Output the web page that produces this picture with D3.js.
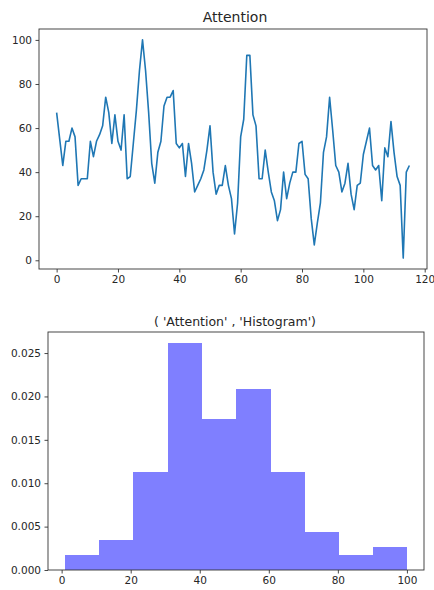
<!DOCTYPE html>
<html><head><meta charset="utf-8">
<script src="https://cdn.jsdelivr.net/npm/d3@7"></script>
<style>
body{margin:0;background:#fff;}
svg{display:block;font-family:"DejaVu Sans",sans-serif;}
</style></head>
<body>
<svg id="c" width="434" height="590"></svg>
<script>
// Line series: Attention values, index 0..115
const attention = [
 67,55,43,54,54,60,56,34,37,37,
 37,54,47,54,57,61,74,67,53,66,
 54,50,66,37,38,53,68,86,100,86,
 67,44,35,49,54,70,74,74,77,53,
 51,53,38,53,44,31,34,37,41,50,
 61,40,30,34,34,43,34,28,12,26,
 56,64,93,93,66,61,37,37,50,40,
 31,27,18,23,40,28,35,40,40,53,
 54,39,37,19,7,17,26,49,56,74,
 59,43,40,31,35,44,30,23,34,35,
 48,54,60,43,41,43,27,51,47,63,
 49,38,34,1,40,43
];
const lineXTicks = [0,20,40,60,80,100,120];
const lineYTicks = [0,20,40,60,80,100];

// Histogram (density)
const binEdges = [1,10.9,20.8,30.7,40.6,50.5,60.4,70.3,80.2,90.1,100];
const densities = [0.00174,0.00348,0.01132,0.02612,0.01742,0.0209,0.01132,0.00435,0.00174,0.00261];
const histXTicks = [0,20,40,60,80,100];
const histYTicks = [0,0.005,0.010,0.015,0.020,0.025];

const svg = d3.select("#c");
const txt = "#262626";

function frame(g, l, t, r, b){
  g.append("rect").attr("x",l).attr("y",t).attr("width",r-l).attr("height",b-t)
   .attr("fill","none").attr("stroke","#333").attr("stroke-width",0.9);
}
function styleAxis(sel, fs){
  sel.select(".domain").remove();
  sel.selectAll(".tick line").attr("stroke","#333").attr("stroke-width",0.9);
  sel.selectAll(".tick text").attr("fill",txt).style("font-size",fs+"px").style("font-family","DejaVu Sans, sans-serif");
}

// ---------- Top: line chart ----------
{
  const L=39,R=427,T=29,B=269;
  const n = attention.length;
  const xr = n-1, ymin = d3.min(attention), ymax = d3.max(attention);
  const x = d3.scaleLinear().domain([-0.05*xr, xr*1.05]).range([L,R]);
  const yr = ymax-ymin;
  const y = d3.scaleLinear().domain([ymin-0.05*yr, ymax+0.05*yr]).range([B,T]);
  const g = svg.append("g");
  g.append("path").datum(attention)
   .attr("d", d3.line().x((d,i)=>x(i)).y(d=>y(d)))
   .attr("fill","none").attr("stroke","#1f77b4").attr("stroke-width",1.6)
   .attr("stroke-linejoin","round");
  frame(g,L,T,R,B);
  const xa = g.append("g").attr("transform",`translate(0,${B})`)
   .call(d3.axisBottom(x).tickValues(lineXTicks).tickSize(3.5).tickPadding(3.5).tickFormat(d3.format("d")));
  styleAxis(xa,10.5);
  const ya = g.append("g").attr("transform",`translate(${L},0)`)
   .call(d3.axisLeft(y).tickValues(lineYTicks).tickSize(3.5).tickPadding(3.5).tickFormat(d3.format("d")));
  styleAxis(ya,10.5);
  g.append("text").attr("x",235).attr("y",T-7).attr("text-anchor","middle")
   .attr("fill",txt).style("font-size","14px").text("Attention");
}

// ---------- Bottom: histogram ----------
{
  const L=48,R=424,T=332,B=570;
  const lo = binEdges[0], hi = binEdges[binEdges.length-1], r = hi-lo;
  const x = d3.scaleLinear().domain([lo-0.05*r, hi+0.05*r]).range([L,R]);
  const y = d3.scaleLinear().domain([0, d3.max(densities)*1.05]).range([B,T]);
  const g = svg.append("g");
  const bins = densities.map((d,i)=>({x0:binEdges[i], x1:binEdges[i+1], v:d}));
  g.selectAll("rect.bar").data(bins).join("rect").attr("class","bar")
   .attr("x",d=>x(d.x0)).attr("width",d=>x(d.x1)-x(d.x0)+0.5)
   .attr("y",d=>y(d.v)).attr("height",d=>y(0)-y(d.v))
   .attr("fill","#7f7fff").attr("shape-rendering","crispEdges");
  frame(g,L,T,R,B);
  const xa = g.append("g").attr("transform",`translate(0,${B})`)
   .call(d3.axisBottom(x).tickValues(histXTicks).tickSize(3.5).tickPadding(3.5).tickFormat(d3.format("d")));
  styleAxis(xa,10.5);
  const ya = g.append("g").attr("transform",`translate(${L},0)`)
   .call(d3.axisLeft(y).tickValues(histYTicks).tickSize(3.5).tickPadding(3.5).tickFormat(d3.format(".3f")));
  styleAxis(ya,10.5);
  g.append("text").attr("x",235).attr("y",T-6).attr("text-anchor","middle")
   .attr("fill",txt).style("font-size","12.5px").text("( 'Attention' , 'Histogram')");
}
</script>
</body></html>
